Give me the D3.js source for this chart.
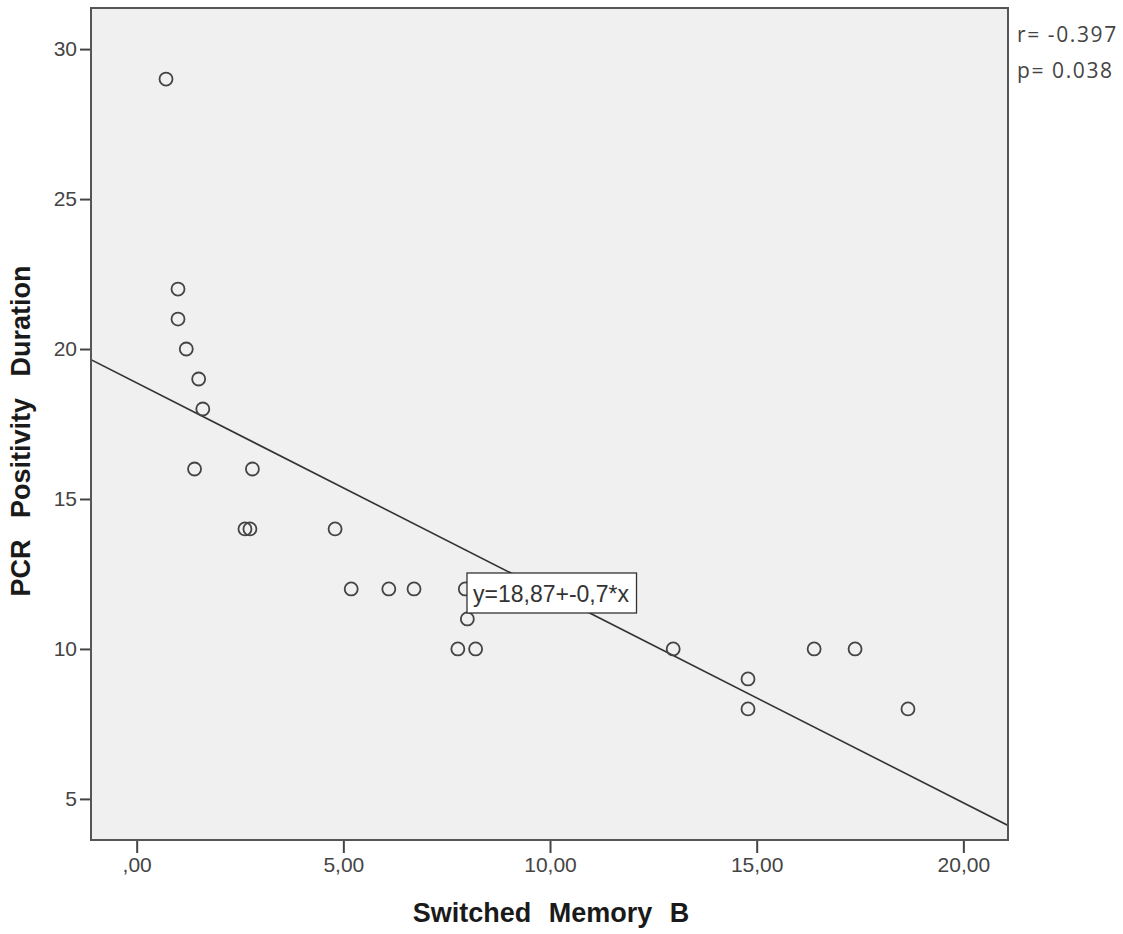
<!DOCTYPE html>
<html>
<head>
<meta charset="utf-8">
<script src="https://cdn.jsdelivr.net/npm/d3@7"></script>
<style>
  body { margin: 0; background: #fff; }
  svg text { font-family: Arial, "Liberation Sans", sans-serif; }
</style>
</head>
<body>
<div id="container"></div>
<script>
// data
var memoryB = [0.71, 1.0, 1.0, 1.2, 1.5, 1.6, 1.4, 2.8, 2.62, 2.74, 4.8, 5.19, 6.1, 6.71, 7.95, 8.0, 7.77, 8.2, 12.98, 14.79, 14.79, 16.39, 17.38, 18.66];
var pcrDays = [29, 22, 21, 20, 19, 18, 16, 16, 14, 14, 14, 12, 12, 12, 12, 11, 10, 10, 10, 9, 8, 10, 10, 8];
var xTicks = [0, 5, 10, 15, 20];
var yTicks = [5, 10, 15, 20, 25, 30];
var fitIntercept = 18.87;
var fitSlope = -0.7;
var statLines = ["r= -0.397", "p= 0.038"];

var init = function(){

    var width = 1123, height = 934;
    var m = {left: 91, right: 1008, top: 8, bottom: 840};

    var svg = d3.select("#container").append("svg")
	.attr("width", width)
	.attr("height", height);

    var x = d3.scaleLinear().domain([-1.105, 21.08]).range([m.left, m.right]);
    var y = d3.scaleLinear().domain([3.63, 31.37]).range([m.bottom, m.top]);

    // plot background
    svg.append("rect")
	.attr("x", m.left).attr("y", m.top)
	.attr("width", m.right - m.left).attr("height", m.bottom - m.top)
	.attr("fill", "#f0f0f0");

    svg.append("clipPath").attr("id", "plotclip")
	.append("rect")
	.attr("x", m.left).attr("y", m.top)
	.attr("width", m.right - m.left).attr("height", m.bottom - m.top);

    // axes
    var fmtX = function(d){
	var s = d3.format(".2f")(d).replace(".", ",");
	return s.replace(/^0,/, ",");
    };

    var xAxis = svg.append("g")
	.attr("transform", "translate(0," + m.bottom + ")")
	.call(d3.axisBottom(x).tickValues(xTicks).tickFormat(fmtX).tickSize(13).tickPadding(4));
    var yAxis = svg.append("g")
	.attr("transform", "translate(" + m.left + ",0)")
	.call(d3.axisLeft(y).tickValues(yTicks).tickSize(11).tickPadding(3));

    [xAxis, yAxis].forEach(function(a){
	a.select(".domain").remove();
	a.selectAll("line").attr("stroke", "#444").attr("stroke-width", 2);
	a.selectAll("text")
	    .attr("fill", "#444")
	    .attr("font-family", "Arial, 'Liberation Sans', sans-serif")
	    .attr("font-size", 21)
	    .style("font-size", "21px");
    });

    // regression line
    var x0 = x.domain()[0], x1 = x.domain()[1];
    svg.append("line")
	.attr("clip-path", "url(#plotclip)")
	.attr("x1", x(x0)).attr("y1", y(fitIntercept + fitSlope * x0))
	.attr("x2", x(x1)).attr("y2", y(fitIntercept + fitSlope * x1))
	.attr("stroke", "#333")
	.attr("stroke-width", 1.6);

    // points
    svg.append("g").selectAll("circle")
	.data(memoryB)
	.enter().append("circle")
	.attr("cx", function(d){ return x(d); })
	.attr("cy", function(d, i){ return y(pcrDays[i]); })
	.attr("r", 6.5)
	.attr("fill", "none")
	.attr("stroke", "#444")
	.attr("stroke-width", 1.8);

    // equation label
    var lab = svg.append("g");
    var labText = lab.append("text")
	.attr("x", 473)
	.attr("y", 602)
	.attr("fill", "#333")
	.style("font-size", "23px")
	.text("y=18,87+-0,7*x");
    var bb = labText.node().getBBox();
    lab.insert("rect", "text")
	.attr("x", 467).attr("y", 573)
	.attr("width", bb.x + bb.width + 7 - 467).attr("height", 40)
	.attr("fill", "#fff")
	.attr("stroke", "#333")
	.attr("stroke-width", 1.3);

    // frame
    svg.append("rect")
	.attr("x", m.left).attr("y", m.top)
	.attr("width", m.right - m.left).attr("height", m.bottom - m.top)
	.attr("fill", "none")
	.attr("stroke", "#555")
	.attr("stroke-width", 2);

    // r and p
    svg.append("g").selectAll("text")
	.data(statLines)
	.enter().append("text")
	.attr("x", 1017)
	.attr("y", function(d, i){ return 42 + i * 36; })
	.attr("fill", "#444")
	.style("font-family", "'Open Sans', sans-serif")
	.style("font-size", "21px")
	.style("letter-spacing", "1.6px")
	.text(function(d){ return d; });

    // axis titles
    svg.append("text")
	.attr("x", 551)
	.attr("y", 922)
	.attr("text-anchor", "middle")
	.attr("fill", "#1a1a1a")
	.style("font-size", "27px")
	.style("font-weight", "bold")
	.style("word-spacing", "10px")
	.text("Switched Memory B");

    svg.append("text")
	.attr("transform", "translate(30,431) rotate(-90)")
	.attr("text-anchor", "middle")
	.attr("fill", "#1a1a1a")
	.style("font-size", "27px")
	.style("font-weight", "bold")
	.style("word-spacing", "14px")
	.text("PCR Positivity Duration");
}

init();
</script>
</body>
</html>
